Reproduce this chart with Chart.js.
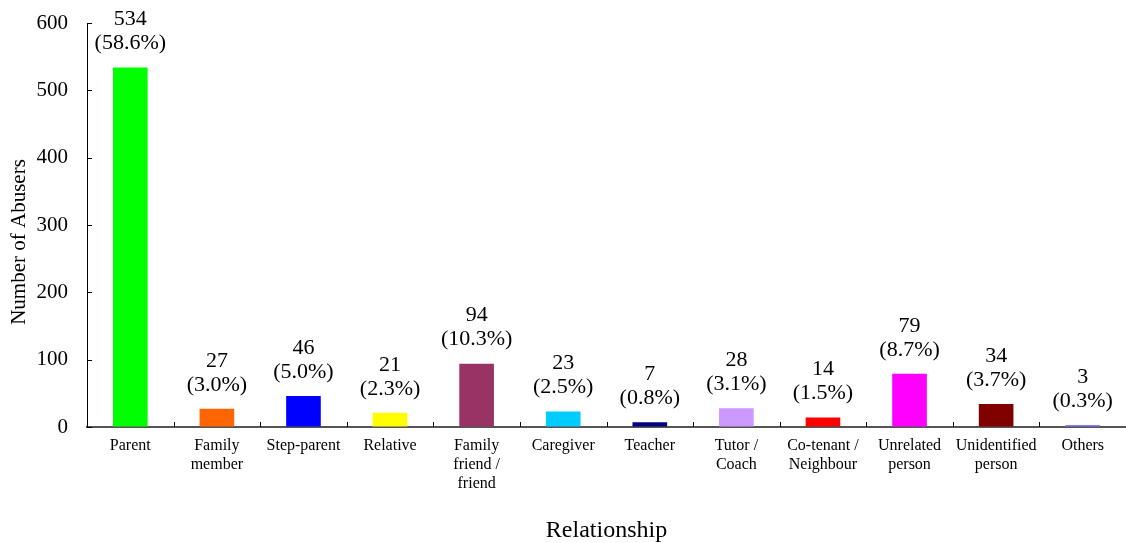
<!DOCTYPE html>
<html>
<head>
<meta charset="utf-8">
<script src="https://cdn.jsdelivr.net/npm/chart.js@4.4.1/dist/chart.umd.min.js"></script>
<style>
    body { margin: 0; padding: 0; background: #fff; }
    #wrap { width: 1126px; height: 543px; }
</style>
</head>
<body>
<div id="wrap"><canvas id="chart"></canvas></div>
<script>
    // data
    const categories = [
        "Parent", ["Family", "member"], "Step-parent", "Relative",
        ["Family", "friend /", "friend"], "Caregiver", "Teacher", ["Tutor /", "Coach"],
        ["Co-tenant /", "Neighbour"], ["Unrelated", "person"], ["Unidentified", "person"], "Others"
    ];
    const abusers = [534, 27, 46, 21, 94, 23, 7, 28, 14, 79, 34, 3];
    const shares = ["58.6", "3.0", "5.0", "2.3", "10.3", "2.5", "0.8", "3.1", "1.5", "8.7", "3.7", "0.3"];
    const barColors = ["#00ff00", "#ff6600", "#0000ff", "#ffff00", "#993366", "#00ccff",
                       "#000080", "#cc99ff", "#ff0000", "#ff00ff", "#800000", "#8080ff"];
    const yTicks = [0, 100, 200, 300, 400, 500, 600];

    const serif = "'Liberation Serif', 'Times New Roman', serif";

    // value + share labels above bars, inward tick marks, y title
    const extras = {
        id: "extras",
        afterDatasetsDraw(chart) {
            const ctx = chart.ctx;
            const meta = chart.getDatasetMeta(0);
            ctx.save();
            ctx.fillStyle = "#000";
            ctx.font = "22px " + serif;
            ctx.textAlign = "center";
            ctx.textBaseline = "middle";
            meta.data.forEach((bar, i) => {
                ctx.fillText(String(abusers[i]), bar.x, bar.y - 48);
                ctx.fillText("(" + shares[i] + "%)", bar.x, bar.y - 24);
            });
            ctx.restore();
        },
        afterDraw(chart) {
            const ctx = chart.ctx;
            const x = chart.scales.x, y = chart.scales.y;
            const area = chart.chartArea;
            ctx.save();
            ctx.strokeStyle = "#000";
            ctx.lineWidth = 1;
            ctx.beginPath();
            yTicks.forEach(v => {
                const py = Math.round(y.getPixelForValue(v)) + 0.5;
                ctx.moveTo(area.left, py);
                ctx.lineTo(area.left + 5, py);
            });
            const step = (area.right - area.left) / categories.length;
            for (let i = 1; i < categories.length; i++) {
                const px = Math.round(x.getPixelForValue(i) - step / 2) + 0.5;
                ctx.moveTo(px, area.bottom);
                ctx.lineTo(px, area.bottom - 5);
            }
            ctx.stroke();

            ctx.translate(19, 242);
            ctx.rotate(-Math.PI / 2);
            ctx.fillStyle = "#000";
            ctx.font = "21px " + serif;
            ctx.textAlign = "center";
            ctx.textBaseline = "middle";
            ctx.fillText("Number of Abusers", 0, 0);
            ctx.restore();
        }
    };

    new Chart("chart", {
        type: "bar",
        data: {
            labels: categories,
            datasets: [{
                data: abusers,
                backgroundColor: barColors,
                barPercentage: 0.4,
                categoryPercentage: 1.0
            }]
        },
        options: {
            responsive: true,
            maintainAspectRatio: false,
            animation: false,
            layout: { padding: { top: 23, right: 0, bottom: 0, left: 0 } },
            plugins: {
                legend: { display: false },
                tooltip: { enabled: false }
            },
            scales: {
                x: {
                    grid: { display: false, drawTicks: false },
                    border: { display: true, color: "#555", width: 2 },
                    ticks: {
                        color: "#000",
                        font: { family: serif, size: 16, lineHeight: 1.2 },
                        padding: 9,
                        maxRotation: 0,
                        autoSkip: false
                    },
                    title: {
                        display: true,
                        text: "Relationship",
                        color: "#000",
                        font: { family: serif, size: 24, lineHeight: 1 },
                        padding: 0
                    },
                    afterFit(scale) { scale.height = 116; }
                },
                y: {
                    min: 0,
                    max: 600,
                    // transparent outer ticks only push the labels away from the axis
                    grid: {
                        display: true,
                        drawOnChartArea: false,
                        drawTicks: true,
                        tickLength: 19,
                        tickColor: "rgba(0,0,0,0)"
                    },
                    border: { display: true, color: "#000", width: 1 },
                    ticks: {
                        stepSize: 100,
                        color: "#000",
                        font: { family: serif, size: 21 },
                        padding: 0
                    },
                    afterFit(scale) { scale.width = 87; }
                }
            }
        },
        plugins: [extras]
    });
</script>
</body>
</html>
